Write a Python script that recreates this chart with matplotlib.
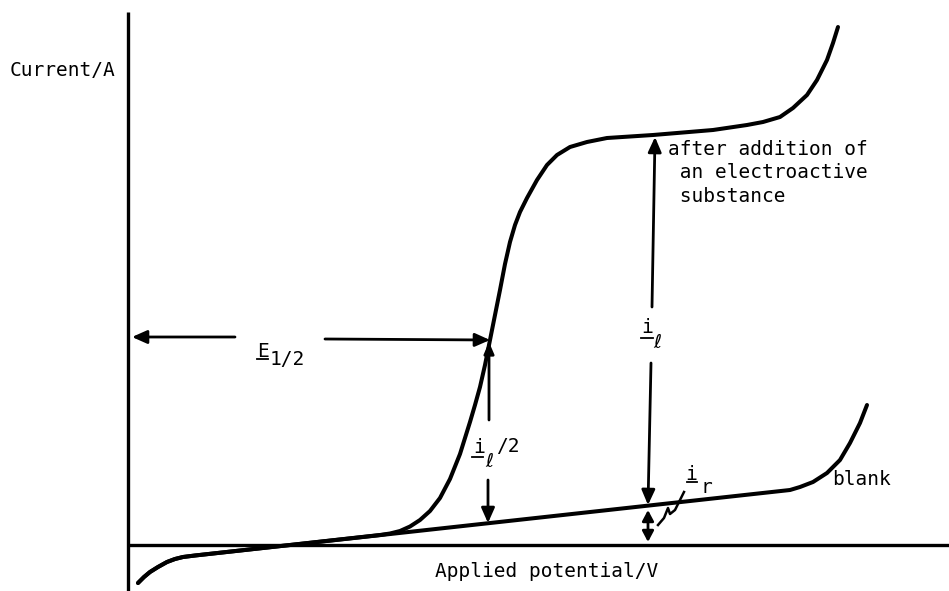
import matplotlib
matplotlib.use("Agg")
import matplotlib.pyplot as plt

# ---- data (potential in arbitrary units, current in arbitrary units) ----
blank_potential = [10, 16, 22, 30, 39, 47, 55, 67, 662, 672, 685, 699, 712, 722, 732, 739]
blank_current = [-38, -32, -27, -22, -17, -14, -12, -10.5, 55, 58, 63, 72, 85, 102, 122, 140]

wave_potential = [10, 16, 22, 30, 39, 47, 55, 67, 252, 262, 272, 282, 292, 302, 312,
                  322, 332, 342, 347, 352, 357, 362, 367, 372, 377, 382, 387, 392,
                  399, 409, 419, 429, 442, 459, 479, 525, 585, 619, 635, 652, 665,
                  679, 689, 699, 705, 710]
wave_current = [-38, -32, -27, -22, -17, -14, -12, -10.5, 10, 11.5, 14, 18.5, 25, 34, 47,
                66, 91, 123, 140, 158, 180, 205, 230, 255, 281, 303, 320, 333,
                347, 365, 380, 390, 398, 403, 407, 410, 415, 420, 423, 428, 437,
                450, 465, 485, 502, 518]

x_label = "Applied potential/V"
y_label = "Current/A"
curve_label = ["after addition of", " an electroactive", " substance"]
blank_label = "blank"

FONT = ["DejaVu Sans Mono", "DejaVu Sans"]
FS = 14

fig = plt.figure(figsize=(9.49, 5.91), dpi=100)
ax = fig.add_axes([0, 0, 1, 1])
ax.set_xlim(-128, 821)
ax.set_ylim(-46, 545)
ax.axis("off")

# axes lines
ax.plot([0, 0], [-46, 533], color="black", lw=2.4, solid_capstyle="butt")
ax.plot([0, 821], [0, 0], color="black", lw=2.4, solid_capstyle="butt")

# curves
ax.plot(blank_potential, blank_current, color="black", lw=2.9,
        solid_joinstyle="round", solid_capstyle="round")
ax.plot(wave_potential, wave_current, color="black", lw=2.9,
        solid_joinstyle="round", solid_capstyle="round")


def arrow(tail, tip, style="-|>", hl=0.45, hw=0.2):
    ax.annotate("", xy=tip, xytext=tail,
                arrowprops=dict(arrowstyle=f"{style},head_length={hl},head_width={hw}",
                                lw=2.0, color="black", shrinkA=0, shrinkB=0,
                                mutation_scale=20))


# E1/2 arrows
arrow((107, 208), (4, 208))
arrow((197, 206), (362, 205))
# i_l/2 arrows
arrow((361, 125), (361, 203), hl=0.35, hw=0.15)
arrow((360, 65), (360, 22))
# i_l arrows
arrow((524, 238), (527, 408))
arrow((523, 182), (520, 40))
# i_r double arrow
arrow((520, 35), (520, 3), style="<|-|>", hl=0.32, hw=0.17)

# squiggle leader for i_r
ax.plot([556, 547, 542, 540, 536, 530], [53, 35, 31, 37, 27, 20],
        color="black", lw=1.8, solid_joinstyle="round")

txt = dict(family=FONT, fontsize=FS, color="black", va="baseline")

# axis labels
ax.text(-118, 469, y_label, ha="left", **txt)
ax.text(307, -32, x_label, ha="left", **txt)

# curve labels
for k, line in enumerate(curve_label):
    ax.text(540, 390 - 23.5 * k, line, ha="left", **txt)
ax.text(704, 60, blank_label, ha="left", **txt)

# E1/2
ax.text(129, 188, "E", ha="left", **txt)
ax.plot([129, 140], [186, 186], color="black", lw=1.3)
ax.text(142, 180, "1/2", ha="left", **txt)

# i_l
ax.text(519, 212, "i", ha="center", **txt)
ax.plot([513, 525], [207, 207], color="black", lw=1.3)
ax.text(529, 197, "\u2113", ha="center", **txt)

# i_l/2
ax.text(351, 92, "i", ha="center", **txt)
ax.plot([344, 355], [88, 88], color="black", lw=1.3)
ax.text(361, 78, "\u2113", ha="center", **txt)
ax.text(368, 93, "/2", ha="left", **txt)

# i_r
ax.text(563, 65, "i", ha="center", **txt)
ax.plot([559, 569], [63, 63], color="black", lw=1.3)
ax.text(578, 52, "r", ha="center", **txt)

fig.savefig("out.png", dpi=100)
